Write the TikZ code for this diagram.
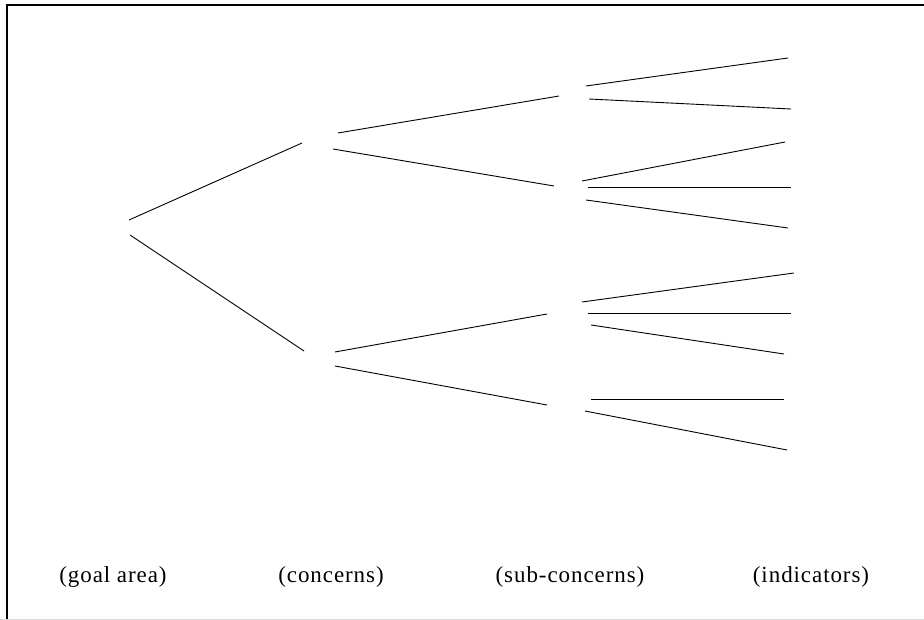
\documentclass[tikz,border=0pt]{standalone}
\usepackage{fontspec}
\setmainfont{Liberation Serif}
\tikzset{
  branch/.style={line width=0.9pt},
  level/.style={font=\fontsize{23}{27}\selectfont\addfontfeatures{LetterSpace=4}}
}
\begin{document}
\begin{tikzpicture}[x=1pt,y=-1pt]
    \useasboundingbox (0,0) rectangle (924,620);
    \draw[line width=2pt] (7,621) -- (7,5) -- (925,5);
    \draw[black!15] (0,619.5) -- (924,619.5);

    % goal area
    \coordinate (G1) at (129,220);
    \coordinate (G2) at (130,235);

    % concerns
    \coordinate (C) at (302,143);
    \coordinate (Ca) at (338,133);
    \coordinate (Cb) at (333,149);
    \coordinate (D) at (304,351);
    \coordinate (Da) at (335,352);
    \coordinate (Db) at (335,366);

    \draw[branch] (G1) -- (C);
    \draw[branch] (G2) -- (D);

    % sub-concerns
    \coordinate (S) at (559,96);
    \coordinate (Sa) at (586,86);
    \coordinate (Sb) at (589,99);
    \coordinate (T) at (554,186);
    \coordinate (Ta) at (582,181);
    \coordinate (Tb) at (588,187);
    \coordinate (Tc) at (586,200);
    \coordinate (U) at (547,314);
    \coordinate (Ua) at (582,302);
    \coordinate (Ub) at (588,313);
    \coordinate (Uc) at (591,325);
    \coordinate (V) at (547,405);
    \coordinate (Va) at (591,399);
    \coordinate (Vb) at (585,411);

    \draw[branch] (Ca) -- (S);
    \draw[branch] (Cb) -- (T);
    \draw[branch] (Da) -- (U);
    \draw[branch] (Db) -- (V);

    % indicators
    \coordinate (I1) at (788,58);
    \coordinate (I2) at (791,109);
    \coordinate (I3) at (785,142);
    \coordinate (I4) at (791,187);
    \coordinate (I5) at (788,228);
    \coordinate (I6) at (794,273);
    \coordinate (I7) at (791,313);
    \coordinate (I8) at (784,354);
    \coordinate (I9) at (784,399);
    \coordinate (I10) at (787,450);

    \draw[branch] (Sa) -- (I1);
    \draw[branch] (Sb) -- (I2);
    \draw[branch] (Ta) -- (I3);
    \draw[branch] (Tb) -- (I4);
    \draw[branch] (Tc) -- (I5);
    \draw[branch] (Ua) -- (I6);
    \draw[branch] (Ub) -- (I7);
    \draw[branch] (Uc) -- (I8);
    \draw[branch] (Va) -- (I9);
    \draw[branch] (Vb) -- (I10);

    \node[level] (goal) at (113,577) {(goal area)};
    \node[level] (conc) at (331,577) {(concerns)};
    \node[level] (subc) at (570,577) {(sub-concerns)};
    \node[level] (indic) at (811,577) {(indicators)};
  \end{tikzpicture}
\end{document}
